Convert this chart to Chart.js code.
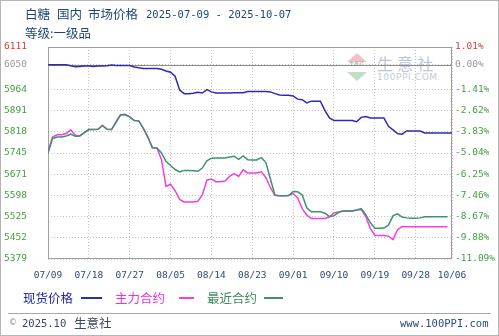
<!DOCTYPE html>
<html lang="zh">
<head>
    <meta charset="UTF-8">
    <title>白糖 国内 市场价格</title>
    <style>
        body {
            margin: 0;
            background: #fff;
        }
        .page {
            position: relative;
            width: 499px;
            height: 336px;
            overflow: hidden;
            background: #fff;
        }
        .frame {
            position: absolute;
            left: 0; top: 0; width: 497px; height: 334px;
            border: 1px solid #b4b4b4;
            pointer-events: none;
        }
        .txt {
            position: absolute;
            white-space: pre;
            line-height: 16px;
        }
        .cn { font-family: "Noto Sans CJK SC", sans-serif; font-size: 12.5px; }
        .mono { font-family: "DejaVu Sans Mono", monospace; font-size: 10.5px; }
        .title { color: #1e4577; }
        .swatch {
            position: absolute;
            height: 1.5px;
        }
        #chart {
            position: absolute;
            left: 0; top: 0;
        }
        .wm-up, .wm-down {
            position: absolute;
            width: 0; height: 0;
            border-left: 10px solid transparent;
            border-right: 10px solid transparent;
        }
        .wm-up { left: 347px; top: 53px; border-bottom: 9px solid #f5c2c2; }
        .wm-down { left: 347px; top: 72px; border-top: 9px solid #bfe0c4; }
    </style>
</head>
<body>
<div class="page">
    <!-- watermark -->
    <div class="wm-up"></div>
    <div class="wm-down"></div>
    <div class="txt" style="left:349px; top:59px; font-size:5px; line-height:8px; color:#9aa4b4; font-family:'Noto Sans CJK SC';">生意社</div>
    <div class="txt" style="left:377px; top:53px; font-size:16px; line-height:20px; letter-spacing:4px; color:#bcc6d8; font-family:'Noto Sans CJK SC';">生意社</div>
    <div class="txt" style="left:377px; top:72px; font-size:9px; line-height:11px; letter-spacing:0.6px; color:#c2cad8; font-family:'DejaVu Sans';">100PPI.COM</div>

    <canvas id="chart" width="499" height="290"></canvas>

    <!-- title -->
    <div class="txt cn title" style="left:25px; top:6px;">白糖</div>
    <div class="txt cn title" style="left:57px; top:6px;">国内</div>
    <div class="txt cn title" style="left:88px; top:6px;">市场价格</div>
    <div class="txt mono title" style="left:146px; top:6px;">2025-07-09 - 2025-10-07</div>
    <div class="txt cn title" style="left:25px; top:25px;">等级:一级品</div>

    <!-- legend -->
    <div class="txt cn" style="left:23px; top:290px; color:#2424b0;">现货价格</div>
    <div class="swatch" style="left:81px; top:297px; width:21px; background:#2b2bb3;"></div>
    <div class="txt cn" style="left:115px; top:290px; color:#f02ee6;">主力合约</div>
    <div class="swatch" style="left:179px; top:297px; width:15px; background:#f040e0;"></div>
    <div class="txt cn" style="left:207px; top:290px; color:#3d8a5f;">最近合约</div>
    <div class="swatch" style="left:264px; top:297px; width:19px; background:#3f9270;"></div>

    <!-- footer -->
    <div style="position:absolute; left:8px; top:313px; width:483px; height:1px; background:#a8a8a8;"></div>
    <div class="txt" style="left:9px; top:315px; font-size:8px; color:#8a8a8a; font-family:'DejaVu Sans';">©</div>
    <div class="txt mono" style="left:22px; top:315px; color:#3a4766;">2025.10</div>
    <div class="txt cn" style="left:74px; top:315px; color:#3a4766;">生意社</div>
    <div class="txt mono" style="left:400px; top:315px; color:#2c4c7c;">www.100PPI.com</div>

    <div class="frame"></div>
</div>

<script src="https://cdn.jsdelivr.net/npm/chart.js"></script>
<script>
    // base price for the percentage axis (0.00%)
    const basePrice = 6050;

    // x axis: day index from 07/09
    const xTickDays = [0, 9, 18, 27, 36, 45, 54, 63, 72, 81, 89];
    const xTickLabels = ['07/09', '07/18', '07/27', '08/05', '08/14', '08/23', '09/01', '09/10', '09/19', '09/28', '10/06'];

    // y axis ticks
    const yTickValues = [5379, 5452.2, 5525.4, 5598.6, 5671.8, 5745, 5818.2, 5891.4, 5964.6, 6050, 6111];
    const leftTickLabels = ['5379', '5452', '5525', '5598', '5671', '5745', '5818', '5891', '5964', '6050', '6111'];
    const rightTickLabels = ['-11.09%', '-9.88%', '-8.67%', '-7.46%', '-6.25%', '-5.04%', '-3.83%', '-2.62%', '-1.41%', '0.00%', '1.01%'];

    // 现货价格 (spot), one value per day
    const spotPrice = [
        6050, 6050, 6050, 6050, 6050, 6046, 6043, 6044, 6045, 6045,
        6044, 6045, 6045, 6046, 6049, 6047, 6047, 6047, 6047, 6042,
        6039, 6037, 6037, 6037, 6037, 6034, 6028, 6024, 6010, 5962,
        5950, 5950, 5951, 5955, 5952, 5964, 5956, 5952, 5952, 5952,
        5952, 5953, 5953, 5953, 5957, 5957, 5957, 5957, 5957, 5956,
        5950, 5945, 5944, 5944, 5942, 5931, 5929, 5918, 5924, 5924,
        5924, 5892, 5866, 5857, 5857, 5857, 5857, 5857, 5853, 5868,
        5871, 5866, 5866, 5866, 5866, 5837, 5825, 5812, 5810, 5821,
        5821, 5821, 5821, 5814, 5814, 5814, 5814, 5814, 5814, 5814
    ];

    // 主力合约 (main contract)
    const mainContract = [
        5750, 5800, 5808, 5808, 5812, 5825, 5806, 5804, 5815, 5826,
        5826, 5827, 5840, 5827, 5826, 5852, 5877, 5878, 5870, 5857,
        5856, 5830, 5800, 5763, 5762, 5722, 5630, 5637, 5615, 5585,
        5576, 5576, 5576, 5578, 5600, 5651, 5655, 5646, 5646, 5648,
        5664, 5674, 5664, 5687, 5676, 5676, 5676, 5680, 5660, 5625,
        5599, 5597, 5597, 5598, 5605, 5590, 5553, 5531, 5519, 5519,
        5519, 5519, 5524, 5538, 5541, 5545, 5545, 5545, 5548, 5550,
        5525, 5485, 5461, 5460, 5460, 5458, 5446, 5480, 5491, 5490,
        5490, 5490, 5490, 5490, 5490, 5490, 5490, 5490, 5490
    ];

    // 最近合约 (nearest contract)
    const nearContract = [
        5745, 5795, 5800, 5800, 5804, 5810, 5803, 5804, 5815, 5826,
        5826, 5827, 5840, 5827, 5826, 5852, 5877, 5878, 5870, 5857,
        5856, 5830, 5800, 5763, 5762, 5745, 5716, 5702, 5688, 5680,
        5685, 5685, 5684, 5682, 5693, 5718, 5727, 5728, 5728, 5728,
        5731, 5734, 5723, 5735, 5722, 5721, 5721, 5729, 5712, 5655,
        5600, 5597, 5597, 5598, 5612, 5611, 5600, 5556, 5542, 5542,
        5542, 5537, 5526, 5528, 5540, 5545, 5545, 5545, 5548, 5553,
        5532, 5505, 5485, 5485, 5486, 5496, 5528, 5535, 5524, 5521,
        5520, 5520, 5521, 5525, 5525, 5525, 5525, 5525, 5525
    ];

    const toPoints = arr => arr.map((v, i) => ({ x: i, y: v }));

    const tickColor = ctx => {
        if (ctx.index === 10) return '#d04040';
        if (ctx.index === 9) return '#9a9a9a';
        return '#44a044';
    };

    // plot border and the solid base line at 6050
    const framePlugin = {
        id: 'frame',
        beforeDatasetsDraw(chart) {
            const { ctx, chartArea: a, scales } = chart;
            const yb = Math.round(scales.y.getPixelForValue(basePrice)) + 0.5;
            ctx.save();
            ctx.strokeStyle = '#8c8c8c';
            ctx.lineWidth = 1;
            ctx.beginPath();
            ctx.moveTo(a.left, yb);
            ctx.lineTo(a.right, yb);
            ctx.stroke();
            ctx.strokeStyle = '#a0a0a0';
            ctx.strokeRect(a.left + 0.5, a.top + 0.5, a.width - 1, a.height - 1);
            ctx.restore();
        }
    };

    new Chart(document.getElementById('chart').getContext('2d'), {
        type: 'line',
        data: {
            datasets: [
                { label: '最近合约', data: toPoints(nearContract), borderColor: '#3f9270' },
                { label: '主力合约', data: toPoints(mainContract), borderColor: '#f040e0' },
                { label: '现货价格', data: toPoints(spotPrice), borderColor: '#2b2bb3' }
            ]
        },
        options: {
            responsive: false,
            animation: false,
            layout: { padding: { top: 47, left: 0, right: 0, bottom: 0 } },
            elements: {
                point: { radius: 0 },
                line: { borderWidth: 1.5, tension: 0, fill: false }
            },
            plugins: {
                legend: { display: false },
                tooltip: { enabled: false }
            },
            scales: {
                x: {
                    type: 'linear',
                    min: 0,
                    max: 89,
                    afterBuildTicks: s => { s.ticks = xTickDays.map(v => ({ value: v })); },
                    afterFit: s => { s.height = 31; },
                    grid: { color: '#c4c4c4', drawTicks: false },
                    border: { display: false, dash: [1, 2] },
                    ticks: {
                        autoSkip: false,
                        maxRotation: 0,
                        padding: 11,
                        color: '#2c4c7c',
                        font: { family: 'DejaVu Sans Mono', size: 9.5 },
                        callback: v => xTickLabels[xTickDays.indexOf(v)]
                    }
                },
                y: {
                    position: 'left',
                    min: 5379,
                    max: 6111,
                    afterBuildTicks: s => { s.ticks = yTickValues.map(v => ({ value: v })); },
                    afterFit: s => { s.width = 48; },
                    grid: { color: '#c4c4c4', drawTicks: false },
                    border: { display: false, dash: [1, 2] },
                    ticks: {
                        padding: 21,
                        color: tickColor,
                        font: { family: 'DejaVu Sans Mono', size: 9.5 },
                        callback: (v, i) => leftTickLabels[i]
                    }
                },
                y2: {
                    position: 'right',
                    min: 5379,
                    max: 6111,
                    afterBuildTicks: s => { s.ticks = yTickValues.map(v => ({ value: v })); },
                    afterFit: s => { s.width = 47; },
                    grid: { display: false, drawTicks: false },
                    border: { display: false },
                    ticks: {
                        padding: 3,
                        color: tickColor,
                        font: { family: 'DejaVu Sans Mono', size: 9.5 },
                        callback: (v, i) => rightTickLabels[i]
                    }
                }
            }
        },
        plugins: [framePlugin]
    });
</script>
</body>
</html>
